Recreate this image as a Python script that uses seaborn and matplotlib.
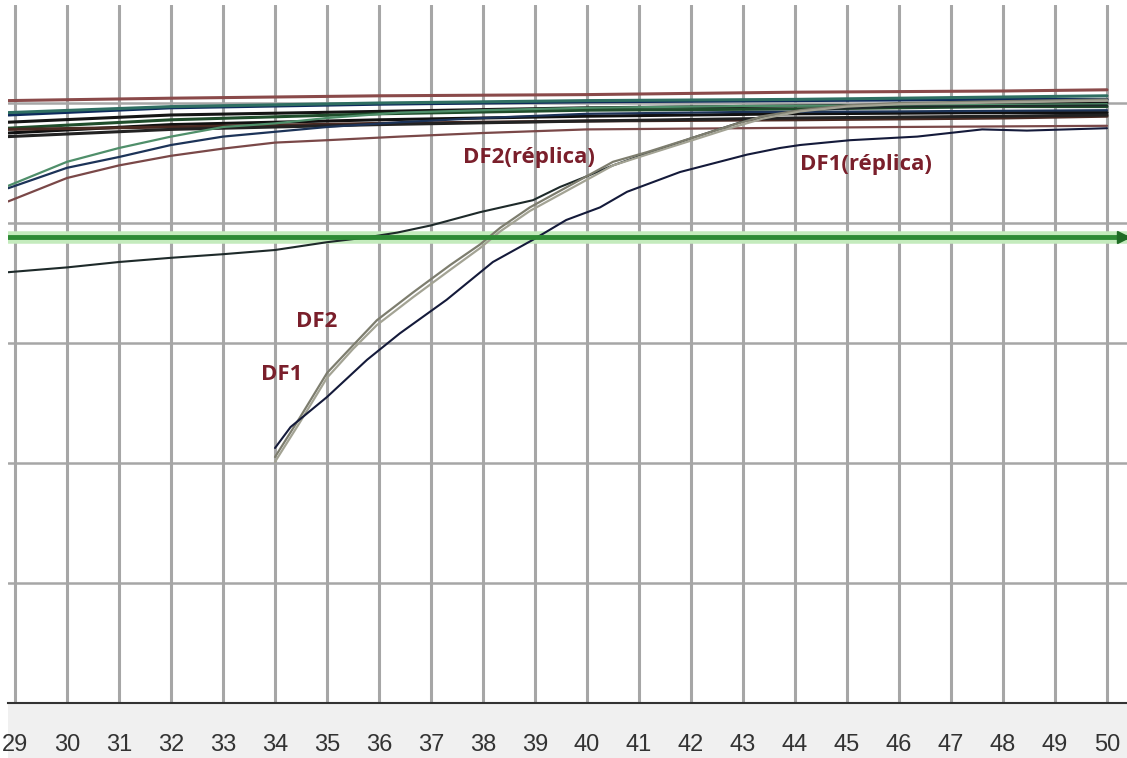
import numpy as np
import pandas as pd
import matplotlib
matplotlib.use("Agg")
import matplotlib.pyplot as plt
from matplotlib.patches import Rectangle
import seaborn as sns

# cycles (x) and fluorescence (arbitrary units, grid step = 1)
cycles = list(range(29, 51))
threshold = 3.88

flat_x = [28.87, 32, 36, 40, 44, 48, 50]
flat_curves = {
    "f1": [5.02, 5.04, 5.06, 5.07, 5.09, 5.10, 5.11],
    "f2": [4.90, 4.96, 4.99, 5.01, 5.02, 5.03, 5.03],
    "f3": [4.92, 4.97, 5.00, 5.02, 5.03, 5.05, 5.06],
    "f4": [4.84, 4.90, 4.93, 4.96, 4.975, 4.99, 5.00],
    "f5": [4.79, 4.86, 4.91, 4.94, 4.95, 4.97, 4.97],
    "f6": [4.75, 4.82, 4.86, 4.89, 4.91, 4.92, 4.92],
    "f7": [4.78, 4.80, 4.83, 4.85, 4.86, 4.875, 4.89],
    "f8": [4.72, 4.78, 4.82, 4.85, 4.875, 4.89, 4.90],
}
flat_colors = ["#8a4a4a", "#0d2a5c", "#2f6f62", "#151515", "#1f4d2b",
               "#101010", "#4a2a22", "#222222"]

early_x = [28.87, 30, 31, 32, 33, 34, 35, 36.4, 38, 40, 43, 46, 50]
green_y = [4.31, 4.51, 4.625, 4.72, 4.80, 4.83, 4.875, 4.92, 4.94, 4.96, 4.975, 4.98, 4.99]
navy_y = [4.29, 4.46, 4.55, 4.65, 4.72, 4.76, 4.80, 4.84, 4.875, 4.91, 4.925, 4.93, 4.94]
brown_y = [4.18, 4.375, 4.48, 4.56, 4.62, 4.67, 4.69, 4.72, 4.75, 4.78, 4.79, 4.80, 4.81]

mid_x = [28.87, 30, 31, 32, 33, 34, 35, 35.77, 36.35, 37.0, 37.94, 38.96,
         39.48, 40.0, 40.5, 41.15, 42.1, 43.1, 44.1, 46, 50]
mid_y = [3.59, 3.63, 3.675, 3.71, 3.74, 3.775, 3.84, 3.88, 3.92, 3.98, 4.09,
         4.19, 4.30, 4.39, 4.48, 4.58, 4.72, 4.86, 4.94, 4.97, 4.98]

df2_x = [34, 34.48, 35, 35.5, 35.96, 36.65, 37.37, 37.94, 38.33, 38.9,
         39.87, 40.5, 41.15, 42.1, 42.75, 43.38, 44.1, 45, 46, 50]
df2_y = [2.05, 2.38, 2.75, 2.98, 3.19, 3.42, 3.65, 3.82, 3.96, 4.13,
         4.36, 4.51, 4.59, 4.72, 4.81, 4.89, 4.94, 4.98, 5.00, 5.03]
df2r_y = [2.01, 2.34, 2.71, 2.95, 3.15, 3.38, 3.61, 3.79, 3.93, 4.10,
          4.33, 4.48, 4.57, 4.70, 4.79, 4.87, 4.93, 4.97, 4.99, 5.02]

df1_x = [34, 34.3, 35, 35.77, 36.4, 37.3, 38.19, 38.96, 39.6, 40.25, 40.77,
         41.79, 43.08, 43.71, 44.1, 45.06, 46.35, 47.6, 48.46, 50]
df1_y = [2.125, 2.30, 2.55, 2.86, 3.08, 3.36, 3.675, 3.86, 4.025, 4.13, 4.26,
         4.425, 4.57, 4.625, 4.65, 4.69, 4.72, 4.78, 4.77, 4.79]

labels = ["DF2(réplica)", "DF1(réplica)", "DF2", "DF1"]
label_x = [38.89, 45.37, 34.81, 34.13]
label_y = [4.50, 4.44, 3.13, 2.69]

sns.set_theme(style="white")

fig = plt.figure(figsize=(11.27, 7.58), dpi=100)
fig.patch.set_facecolor("white")
fig.patches.append(Rectangle((8 / 1127, 0), 1, 55 / 758, transform=fig.transFigure,
                             facecolor="#f0f0f0", edgecolor="none", zorder=-5))
ax = fig.add_axes([8 / 1127, 55 / 758, 1119 / 1127, 698 / 758])
ax.set_zorder(2)
ax.set_facecolor("white")

for (name, ys), c in zip(flat_curves.items(), flat_colors):
    sns.lineplot(x=flat_x, y=ys, ax=ax, color=c, lw=2.2, sort=False, zorder=3)

for ys, c in [(green_y, "#4f8f6a"), (navy_y, "#1c3358"), (brown_y, "#7a4848")]:
    sns.lineplot(x=early_x, y=ys, ax=ax, color=c, lw=1.6, sort=False, zorder=3)

sns.lineplot(x=mid_x, y=mid_y, ax=ax, color="#1e2a2a", lw=1.5, sort=False, zorder=3)
sns.lineplot(x=df2_x, y=df2_y, ax=ax, color="#7d7d6e", lw=1.6, sort=False, zorder=4)
sns.lineplot(x=df2_x, y=df2r_y, ax=ax, color="#a3a394", lw=1.6, sort=False, zorder=4)
sns.lineplot(x=df1_x, y=df1_y, ax=ax, color="#141a3a", lw=1.5, sort=False, zorder=4)

# threshold line with halo and arrow
ax.axhline(threshold, color="#c4ebbd", lw=9, zorder=2)
ax.axhline(threshold, color="#2e8b35", lw=3.5, zorder=5)
ax.plot([50.3], [threshold], marker=">", color="#1f6b25", markersize=9,
        clip_on=False, zorder=6)

for t, lx, ly in zip(labels, label_x, label_y):
    ax.text(lx, ly, t, ha="center", va="baseline", color="#7a1f2b",
            fontsize=16, fontweight="bold", family="Open Sans", zorder=7)

ax.set_xlim(28.865, 50.385)
ax.set_ylim(0, 698 / 120)
ax.set_xticks(cycles)
ax.set_yticks([1, 2, 3, 4, 5])
ax.set_yticklabels([])
ax.grid(True, axis="x", color="#a6a6a6", lw=2.2)
ax.grid(True, axis="y", color="#a6a6a6", lw=1.8)
ax.set_axisbelow(True)
ax.tick_params(axis="x", length=0, pad=22, labelsize=17, labelcolor="#333333")
for lbl in ax.get_xticklabels():
    lbl.set_family("Liberation Sans")
ax.tick_params(axis="y", length=0)
for s in ["top", "left", "right"]:
    ax.spines[s].set_visible(False)
ax.spines["bottom"].set_color("#333333")
ax.spines["bottom"].set_linewidth(1.5)
ax.set_xlabel("")
ax.set_ylabel("")

fig.savefig("out.png", dpi=100)
